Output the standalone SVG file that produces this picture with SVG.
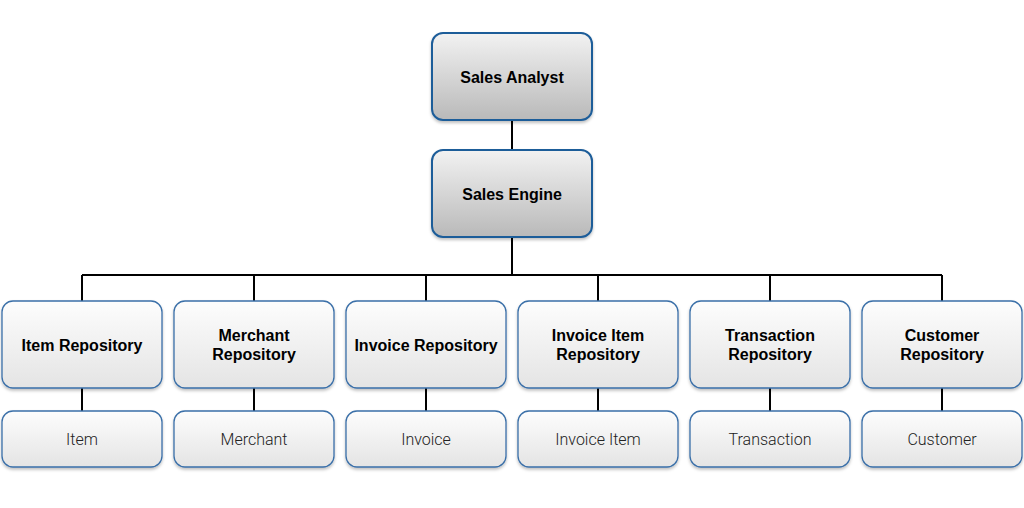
<svg xmlns="http://www.w3.org/2000/svg" width="1024" height="508" viewBox="0 0 1024 508">
<defs>
<linearGradient id="gTop" x1="0" y1="0" x2="0" y2="1">
<stop offset="0" stop-color="#f2f2f2"/>
<stop offset="1" stop-color="#b9b9b9"/>
</linearGradient>
<linearGradient id="gRepo" x1="0" y1="0" x2="0" y2="1">
<stop offset="0" stop-color="#fdfdfd"/>
<stop offset="1" stop-color="#e4e4e4"/>
</linearGradient>
<filter id="sh" x="-10%" y="-10%" width="120%" height="130%">
<feDropShadow dx="0" dy="2" stdDeviation="1.5" flood-color="#000" flood-opacity="0.25"/>
</filter>
</defs>
<style>
.top{fill:url(#gTop);stroke:#1f5d99;stroke-width:2;filter:url(#sh)}
.repo{fill:url(#gRepo);stroke:#3a6fa8;stroke-width:1.3;filter:url(#sh)}
.b{font-family:"Liberation Sans",Arial,sans-serif;font-weight:bold;font-size:16px;fill:#000;text-anchor:middle}
.l{font-family:Roboto,"Liberation Sans",sans-serif;font-weight:300;font-size:16px;fill:#222;text-anchor:middle}
.c{stroke:#000;stroke-width:2;fill:none}
</style>
<rect width="1024" height="508" fill="#fff"/>
<g id="connectors">
<path class="c" d="M512 120V150M512 237V275M82 275H942M82 275V301M254 275V301M426 275V301M598 275V301M770 275V301M942 275V301M82 388V411M254 388V411M426 388V411M598 388V411M770 388V411M942 388V411"/>
</g>
<g id="sales-analyst"><rect class="top" x="432" y="33" width="160" height="87" rx="11"/><text class="b" x="512" y="83">Sales Analyst</text></g>
<g id="sales-engine"><rect class="top" x="432" y="150" width="160" height="87" rx="11"/><text class="b" x="512" y="200">Sales Engine</text></g>
<g id="item-repository"><rect class="repo" x="2" y="301" width="160" height="87" rx="11"/><text class="b" x="82" y="351">Item Repository</text></g>
<g id="merchant-repository"><rect class="repo" x="174" y="301" width="160" height="87" rx="11"/><text class="b" x="254" y="341">Merchant</text><text class="b" x="254" y="360">Repository</text></g>
<g id="invoice-repository"><rect class="repo" x="346" y="301" width="160" height="87" rx="11"/><text class="b" x="426" y="351">Invoice Repository</text></g>
<g id="invoice-item-repository"><rect class="repo" x="518" y="301" width="160" height="87" rx="11"/><text class="b" x="598" y="341">Invoice Item</text><text class="b" x="598" y="360">Repository</text></g>
<g id="transaction-repository"><rect class="repo" x="690" y="301" width="160" height="87" rx="11"/><text class="b" x="770" y="341">Transaction</text><text class="b" x="770" y="360">Repository</text></g>
<g id="customer-repository"><rect class="repo" x="862" y="301" width="160" height="87" rx="11"/><text class="b" x="942" y="341">Customer</text><text class="b" x="942" y="360">Repository</text></g>
<g id="item"><rect class="repo" x="2" y="411" width="160" height="56" rx="11"/><text class="l" x="82" y="445">Item</text></g>
<g id="merchant"><rect class="repo" x="174" y="411" width="160" height="56" rx="11"/><text class="l" x="254" y="445">Merchant</text></g>
<g id="invoice"><rect class="repo" x="346" y="411" width="160" height="56" rx="11"/><text class="l" x="426" y="445">Invoice</text></g>
<g id="invoice-item"><rect class="repo" x="518" y="411" width="160" height="56" rx="11"/><text class="l" x="598" y="445">Invoice Item</text></g>
<g id="transaction"><rect class="repo" x="690" y="411" width="160" height="56" rx="11"/><text class="l" x="770" y="445">Transaction</text></g>
<g id="customer"><rect class="repo" x="862" y="411" width="160" height="56" rx="11"/><text class="l" x="942" y="445">Customer</text></g>
</svg>
